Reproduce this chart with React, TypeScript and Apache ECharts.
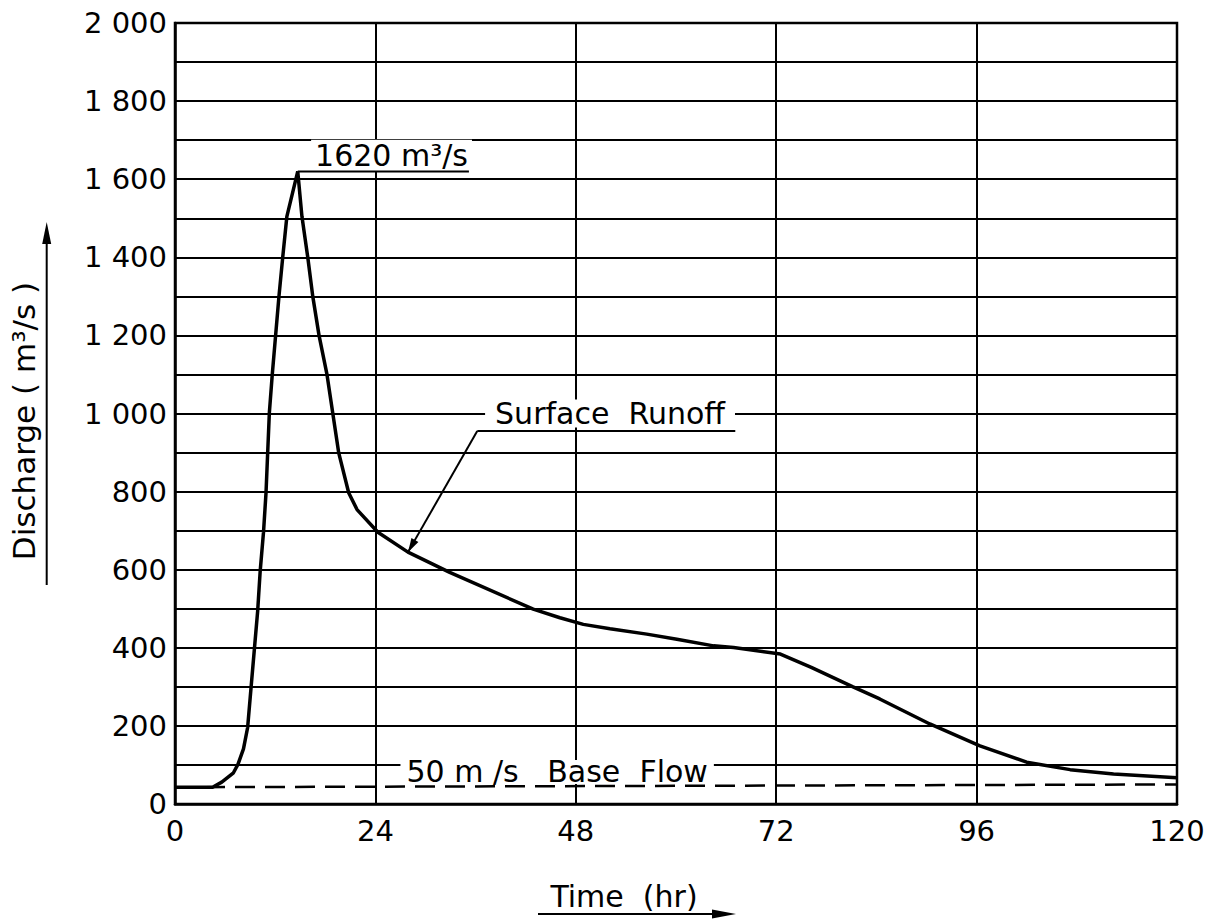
import React, { useEffect, useRef } from "react";
import * as echarts from "echarts";

// Hydrograph: time (hr) vs discharge (m³/s)
const timeHr = [
  0, 4.5, 5.6, 7, 7.55, 8.2, 8.7, 9.1, 9.5, 9.9, 10.2, 10.6, 10.9, 11.1, 11.3, 11.65,
  12.05, 12.45, 12.9, 13.4, 14.7, 15.2, 15.9, 16.5, 17.25, 18.2, 18.9, 19.6, 20.8, 21.8,
  24.3, 27.9, 32.9, 42.9, 46.1, 48.9, 52.1, 56.5, 60.1, 64.5, 66.9, 72.5, 76.2, 81.2,
  84.4, 90.4, 96.4, 102, 107.2, 112.4, 120,
];
const discharge = [
  43, 43, 56, 80, 102, 141, 196, 296, 395, 494, 596, 696, 797, 900, 1002, 1100,
  1200, 1300, 1400, 1505, 1620, 1505, 1400, 1300, 1200, 1100, 1000, 900, 797, 754,
  696, 645, 593, 499, 477, 460, 449, 435, 422, 405, 401, 384, 350, 300,
  269, 205, 149, 107, 88, 77, 67,
];

const baseFlowTime = [0, 120];
const baseFlowQ = [43, 50];

const yTickValues = [0, 200, 400, 600, 800, 1000, 1200, 1400, 1600, 1800, 2000];
const yTickLabels = ["0", "200", "400", "600", "800", "1 000", "1 200", "1 400", "1 600", "1 800", "2 000"];

const peakUnitText = "m³/s";
const runoffLabel = "Surface  Runoff";
const baseFlowLabel = "50 m /s   Base  Flow";
const yAxisTitle = "Discharge ( m³/s )";
const xAxisTitle = "Time  (hr)";

const FONT = "DejaVu Sans";
const INK = "#000";

export default function App() {
  const ref = useRef<HTMLDivElement>(null);

  useEffect(() => {
    if (!ref.current) return;
    const chart = echarts.init(ref.current, null, { renderer: "svg" });

    const lineData = timeHr.map((t, i) => [t, discharge[i]]);
    const baseData = baseFlowTime.map((t, i) => [t, baseFlowQ[i]]);

    chart.setOption({
      animation: false,
      backgroundColor: "#fff",
      grid: {
        left: 175,
        top: 23,
        width: 1002,
        height: 781,
        show: true,
        borderColor: INK,
        borderWidth: 2.5,
        backgroundColor: "transparent",
      },
      xAxis: {
        type: "value",
        min: 0,
        max: 120,
        interval: 24,
        axisLine: { show: true, lineStyle: { color: INK, width: 2.5 } },
        axisTick: { show: false },
        axisLabel: { color: INK, fontFamily: FONT, fontSize: 29, margin: 12 },
        splitLine: { show: true, lineStyle: { color: INK, width: 2 } },
      },
      yAxis: {
        type: "value",
        min: 0,
        max: 2000,
        interval: 100,
        axisLine: { show: true, lineStyle: { color: INK, width: 2.5 } },
        axisTick: { show: false },
        axisLabel: {
          color: INK,
          fontFamily: FONT,
          fontSize: 29,
          margin: 8,
          formatter: (v: number) => {
            const i = yTickValues.indexOf(v);
            return i >= 0 ? yTickLabels[i] : "";
          },
        },
        splitLine: { show: true, lineStyle: { color: INK, width: 2 } },
      },
      series: [
        {
          type: "line",
          data: baseData,
          symbol: "none",
          lineStyle: { color: INK, width: 2.5, type: [20, 10] },
          z: 2,
        },
        {
          type: "line",
          data: lineData,
          symbol: "none",
          lineStyle: { color: INK, width: 3.5 },
          z: 3,
        },
      ],
    });

    const px = (pt: number[]) => chart.convertToPixel({ gridIndex: 0 }, pt) as number[];

    // peak
    let peakIdx = 0;
    discharge.forEach((q, i) => {
      if (q > discharge[peakIdx]) peakIdx = i;
    });
    const peakT = timeHr[peakIdx];
    const peakQ = discharge[peakIdx];
    const peakP = px([peakT, peakQ]);
    const peakUnderlineEnd = px([35.2, peakQ]);
    const peakTextP = px([16.3, peakQ + 40]);

    // surface runoff annotation
    const runoffTextP = px([52.1, 1000]);
    const runoffUlStart = px([36.2, 955]);
    const runoffUlEnd = px([67.1, 955]);
    const runoffTip = px([27.9, 645]);

    // base flow annotation
    const baseTextP = px([27.0, 82]);

    const arrowHead = (from: number[], to: number[], len: number, half: number) => {
      const dx = to[0] - from[0];
      const dy = to[1] - from[1];
      const d = Math.hypot(dx, dy);
      const ux = dx / d;
      const uy = dy / d;
      const bx = to[0] - ux * len;
      const by = to[1] - uy * len;
      return [
        [to[0], to[1]],
        [bx - uy * half, by + ux * half],
        [bx + uy * half, by - ux * half],
      ];
    };

    const textStyle = (extra: any) => ({
      fill: INK,
      fontFamily: FONT,
      fontSize: 30,
      ...extra,
    });

    const yArrowFrom = [46.7, 585];
    const yArrowTo = [46.7, 222];
    const xArrowFrom = [538, 914];
    const xArrowTo = [736, 914];

    chart.setOption({
      graphic: [
        // peak label
        {
          type: "text",
          x: peakTextP[0],
          y: peakTextP[1],
          z: 10,
          style: textStyle({
            text: `${peakQ} ${peakUnitText}`,
            align: "left",
            verticalAlign: "middle",
            backgroundColor: "#fff",
            padding: [2, 4],
            lineHeight: 28,
          }),
        },
        {
          type: "line",
          z: 11,
          shape: { x1: peakP[0], y1: peakP[1], x2: peakUnderlineEnd[0], y2: peakUnderlineEnd[1] },
          style: { stroke: INK, lineWidth: 2 },
        },
        // surface runoff label
        {
          type: "text",
          x: runoffTextP[0],
          y: runoffTextP[1],
          z: 10,
          style: textStyle({
            text: runoffLabel,
            align: "center",
            verticalAlign: "middle",
            backgroundColor: "#fff",
            padding: [0, 10],
            lineHeight: 28,
          }),
        },
        {
          type: "line",
          z: 11,
          shape: { x1: runoffUlStart[0], y1: runoffUlStart[1], x2: runoffUlEnd[0], y2: runoffUlEnd[1] },
          style: { stroke: INK, lineWidth: 2 },
        },
        {
          type: "line",
          z: 11,
          shape: { x1: runoffUlStart[0], y1: runoffUlStart[1], x2: runoffTip[0], y2: runoffTip[1] },
          style: { stroke: INK, lineWidth: 2 },
        },
        {
          type: "polygon",
          z: 11,
          shape: { points: arrowHead(runoffUlStart, runoffTip, 14, 4) },
          style: { fill: INK },
        },
        // base flow label
        {
          type: "text",
          x: baseTextP[0],
          y: baseTextP[1],
          z: 10,
          style: textStyle({
            text: baseFlowLabel,
            align: "left",
            verticalAlign: "middle",
            backgroundColor: "#fff",
            padding: [0, 6],
            lineHeight: 24,
          }),
        },
        // y axis title and arrow
        {
          type: "text",
          x: 24,
          y: 421,
          rotation: Math.PI / 2,
          z: 10,
          style: textStyle({ text: yAxisTitle, align: "center", verticalAlign: "middle", fontSize: 31 }),
        },
        {
          type: "line",
          z: 10,
          shape: { x1: yArrowFrom[0], y1: yArrowFrom[1], x2: yArrowTo[0], y2: yArrowTo[1] + 10 },
          style: { stroke: INK, lineWidth: 2 },
        },
        {
          type: "polygon",
          z: 10,
          shape: { points: arrowHead(yArrowFrom, yArrowTo, 22, 4.5) },
          style: { fill: INK },
        },
        // x axis title and arrow
        {
          type: "text",
          x: 624,
          y: 896,
          z: 10,
          style: textStyle({ text: xAxisTitle, align: "center", verticalAlign: "middle" }),
        },
        {
          type: "line",
          z: 10,
          shape: { x1: xArrowFrom[0], y1: xArrowFrom[1], x2: xArrowTo[0] - 10, y2: xArrowTo[1] },
          style: { stroke: INK, lineWidth: 2 },
        },
        {
          type: "polygon",
          z: 10,
          shape: { points: arrowHead(xArrowFrom, xArrowTo, 24, 4.5) },
          style: { fill: INK },
        },
      ],
    });

    return () => chart.dispose();
  }, []);

  return (
    <div
      ref={ref}
      style={{ position: "fixed", left: 0, top: 0, width: 1221, height: 921, background: "#fff" }}
    />
  );
}
